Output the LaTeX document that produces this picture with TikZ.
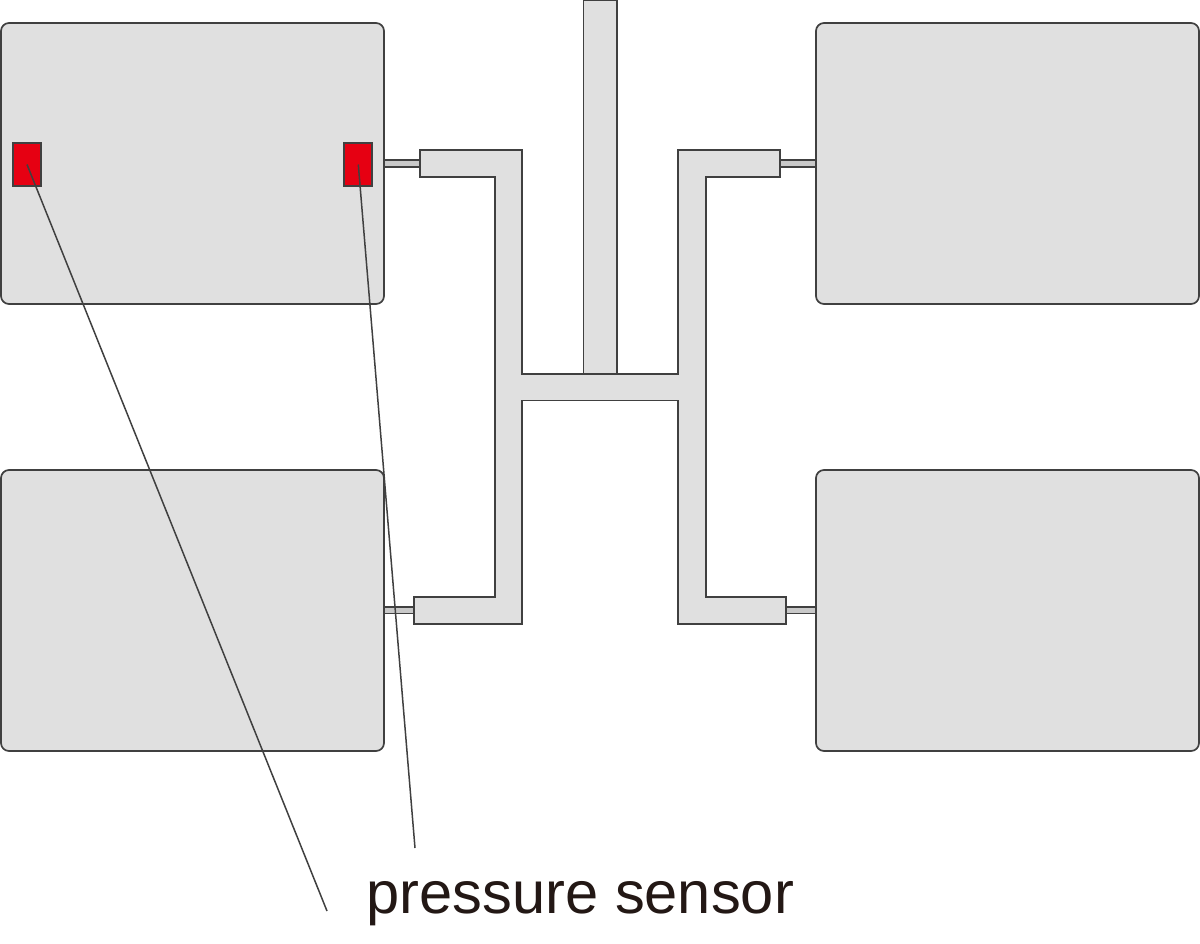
\documentclass[tikz,border=0pt]{standalone}
\usepackage{fontspec}
\setmainfont{Liberation Sans}
\definecolor{ln}{HTML}{404040}
\definecolor{fl}{HTML}{E0E0E0}
\definecolor{stubfl}{HTML}{C9C9C9}
\definecolor{snr}{HTML}{E60012}
\definecolor{txt}{HTML}{231815}
\tikzset{
  outl/.style={draw=ln,line width=1.7pt,line join=miter},
  chamber/.style={outl,fill=fl,rounded corners=8pt,minimum width=383pt,minimum height=281pt,inner sep=0pt,outer sep=0pt,anchor=north west},
  stub/.style={outl,fill=stubfl,inner sep=0pt,outer sep=0pt,anchor=north west},
  sensor/.style={outl,fill=snr,minimum width=28pt,minimum height=43pt,inner sep=0pt,outer sep=0pt,anchor=north west},
  leader/.style={draw=ln,line width=1.5pt},
  pipe/.style={outl,fill=fl}
}
\begin{document}
\begin{tikzpicture}[x=1pt,y=-1pt]
\useasboundingbox (0,0) rectangle (1200,943);
% chambers
\node[chamber] (tl) at (1,23) {};
\node[chamber] (tr) at (816,23) {};
\node[chamber] (bl) at (1,470) {};
\node[chamber] (br) at (816,470) {};
% thin stubs
\node[stub,minimum width=36pt,minimum height=7pt] (s1) at (384,160) {};
\node[stub,minimum width=36pt,minimum height=7pt] (s2) at (780,160) {};
\node[stub,minimum width=30pt,minimum height=6.5pt] (s3) at (384,607) {};
\node[stub,minimum width=30pt,minimum height=6.5pt] (s4) at (786,607) {};
% manifold
\draw[pipe] (420,150) -- (522,150) -- (522,374) -- (678,374) -- (678,150) -- (780,150)
  -- (780,177) -- (706,177) -- (706,597) -- (786,597) -- (786,624) -- (678,624)
  -- (678,400.5) -- (522,400.5) -- (522,624) -- (414,624) -- (414,597) -- (495,597)
  -- (495,177) -- (420,177) -- cycle;
% inlet stem
\node[stub,fill=fl,minimum width=33.5pt,minimum height=374pt] (stem) at (583.5,0) {};
% sensors
\node[sensor] (p1) at (13,143) {};
\node[sensor] (p2) at (344.3,143) {};
% label
\node[anchor=base west,inner sep=0pt,text=txt,font=\fontsize{59.6}{60}\selectfont] (lab) at (366.5,913) {pressure sensor};
% leaders
\coordinate (e1) at (327,911);
\coordinate (e2) at (415,848);
\draw[leader] (p1.center) -- (e1);
\draw[leader] (p2.center) -- (e2);
\end{tikzpicture}
\end{document}
